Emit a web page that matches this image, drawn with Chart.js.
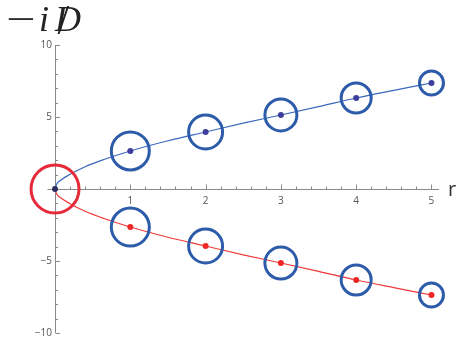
<!DOCTYPE html>
<html>
<head>
<meta charset="utf-8">
<title>-iD spectrum</title>
<script src="https://cdn.jsdelivr.net/npm/chart.js@4.4.1/dist/chart.umd.min.js"></script>
<style>
  html, body { margin: 0; padding: 0; background: #fff; }
  #wrap { position: relative; width: 457px; height: 341px; }
</style>
</head>
<body>
<div id="wrap"><canvas id="chart" width="457" height="341"></canvas></div>
<script>
  'use strict';

  /* curve samples */
  var R_CURVE = [0, 0.02, 0.08, 0.2, 0.4, 0.65, 1, 1.5, 2, 2.5, 3, 3.5, 4, 4.5, 5];
  var UPPER_CURVE = [0, 0.33, 0.63, 1.02, 1.55, 2.05, 2.64, 3.35, 3.96, 4.57, 5.14, 5.72, 6.32, 6.85, 7.36];
  var LOWER_CURVE = [0, -0.33, -0.63, -1.02, -1.55, -2.05, -2.64, -3.35, -3.96, -4.57, -5.14, -5.72, -6.32, -6.85, -7.36];

  /* eigenvalue markers */
  var R_POINTS = [1, 2, 3, 4, 5];
  var UPPER_POINTS = [2.64, 3.96, 5.14, 6.32, 7.36];
  var LOWER_POINTS = [-2.64, -3.96, -5.14, -6.32, -7.36];
  var ORIGIN = [{ x: 0, y: 0 }];

  var X_TICK_LABELS = [1, 2, 3, 4, 5];
  var Y_TICK_LABELS = [-10, -5, 5, 10];

  var colors = {
    blueLine: '#3a68bd',
    redLine: '#f03a3a',
    ring: '#2c5ba9',
    redRing: '#e62a3a',
    blueDot: '#3e3f9c',
    redDot: '#ee2626',
    originDot: '#2c2e62',
    axis: '#8a8a8a',
    tickText: '#555'
  };
  var ringRadius = [19, 17, 16, 15, 12];

  function pairs(xs, ys) {
    return xs.map(function (x, i) { return { x: x, y: ys[i] }; });
  }

  function line(ctx, x1, y1, x2, y2) {
    ctx.beginPath();
    ctx.moveTo(x1, y1);
    ctx.lineTo(x2, y2);
    ctx.stroke();
  }

  /* Mathematica-style axes crossing at the origin */
  var axesPlugin = {
    id: 'mmaAxes',
    beforeDatasetsDraw: function (chart) {
      var ctx = chart.ctx, xs = chart.scales.x, ys = chart.scales.y;
      var x0 = Math.round(xs.getPixelForValue(0)) + 0.5;
      var y0 = Math.round(ys.getPixelForValue(0)) + 0.5;
      ctx.save();
      ctx.strokeStyle = colors.axis;
      ctx.lineWidth = 1;
      line(ctx, xs.left, y0, xs.right, y0);
      line(ctx, x0, ys.top, x0, ys.bottom);

      var i, p;
      for (i = 1; i <= 25; i++) {
        p = Math.round(xs.getPixelForValue(i / 5)) + 0.5;
        line(ctx, p, y0, p, y0 - (i % 5 === 0 ? 5 : 3));
      }
      for (i = -10; i <= 10; i++) {
        if (i === 0) continue;
        p = Math.round(ys.getPixelForValue(i)) + 0.5;
        line(ctx, x0, p, x0 + (i % 5 === 0 ? 4.5 : 2.5), p);
      }

      ctx.fillStyle = colors.tickText;
      ctx.font = '10px "Open Sans"';
      ctx.textAlign = 'center';
      ctx.textBaseline = 'alphabetic';
      X_TICK_LABELS.forEach(function (v) {
        ctx.fillText(String(v), xs.getPixelForValue(v), y0 + 14.5);
      });
      ctx.textAlign = 'right';
      ctx.textBaseline = 'middle';
      Y_TICK_LABELS.forEach(function (v) {
        ctx.fillText(String(v).replace('-', '\u2212'), x0 - 3.5, ys.getPixelForValue(v) + 0.5);
      });

      ctx.fillStyle = '#333';
      ctx.font = '20px "Open Sans"';
      ctx.textAlign = 'left';
      ctx.textBaseline = 'alphabetic';
      ctx.fillText('r', 448, y0 + 6);
      ctx.restore();
    },
    afterDraw: function (chart) {
      var ctx = chart.ctx;
      ctx.save();
      ctx.fillStyle = '#222';
      ctx.textBaseline = 'alphabetic';
      ctx.textAlign = 'left';
      ctx.font = '36px "Liberation Serif"';
      ctx.save();
      ctx.translate(6, 31);
      ctx.scale(1.45, 1);
      ctx.fillText('\u2212', 0, 0);
      ctx.restore();
      ctx.font = 'italic 36px "Liberation Serif"';
      ctx.fillText('i', 39, 31);
      ctx.fillText('D', 55, 31);
      // Feynman slash through the D
      ctx.font = '42px "Liberation Serif"';
      ctx.fillText('/', 57.5, 33.5);
      ctx.restore();
    }
  };

  function curve(data, color) {
    return {
      data: data,
      showLine: true,
      borderColor: color,
      borderWidth: 1.2,
      pointRadius: 0,
      cubicInterpolationMode: 'monotone',
      clip: false,
      order: 3
    };
  }

  function rings(data, color, radius) {
    return {
      data: data,
      showLine: false,
      pointRadius: radius,
      pointBorderWidth: 3,
      pointBorderColor: color,
      pointBackgroundColor: 'rgba(0,0,0,0)',
      clip: false,
      order: 2
    };
  }

  function dots(data, color) {
    return {
      data: data,
      showLine: false,
      pointRadius: 3,
      pointBorderWidth: 0,
      pointBackgroundColor: color,
      pointBorderColor: color,
      clip: false,
      order: 1
    };
  }

  new Chart(document.getElementById('chart'), {
    type: 'scatter',
    data: {
      datasets: [
        curve(pairs(R_CURVE, UPPER_CURVE), colors.blueLine),
        curve(pairs(R_CURVE, LOWER_CURVE), colors.redLine),
        rings(pairs(R_POINTS, UPPER_POINTS), colors.ring, ringRadius),
        rings(pairs(R_POINTS, LOWER_POINTS), colors.ring, ringRadius),
        rings(ORIGIN, colors.redRing, 24),
        dots(pairs(R_POINTS, UPPER_POINTS), colors.blueDot),
        dots(pairs(R_POINTS, LOWER_POINTS), colors.redDot),
        dots(ORIGIN, colors.originDot)
      ]
    },
    options: {
      responsive: false,
      animation: false,
      layout: { autoPadding: false, padding: { left: 47.5, right: 18, top: 45, bottom: 8 } },
      scales: {
        x: { type: 'linear', min: -0.1, max: 5.1, display: false },
        y: { type: 'linear', min: -10, max: 10, display: false }
      },
      plugins: {
        legend: { display: false },
        tooltip: { enabled: false }
      }
    },
    plugins: [axesPlugin]
  });
</script>
</body>
</html>
